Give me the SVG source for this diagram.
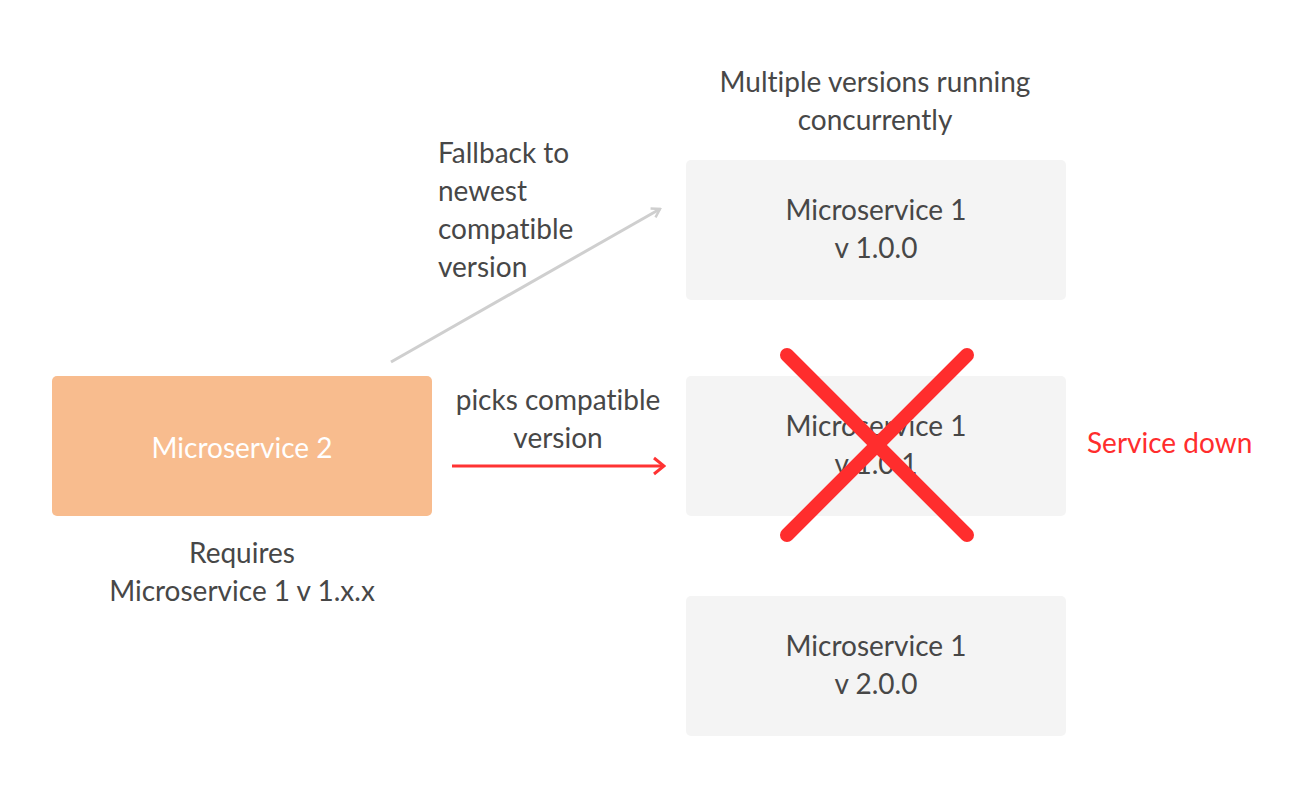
<svg xmlns="http://www.w3.org/2000/svg" width="1308" height="802" viewBox="0 0 1308 802">
<style>
text{font-family:Lato,"Noto Sans",sans-serif;font-size:28px;fill:#474747;font-variant-ligatures:none}
.c{text-anchor:middle}
.box{fill:#F4F4F4}
</style>
<defs>
<marker id="ag" viewBox="0 0 12 12" refX="10" refY="6" markerWidth="12" markerHeight="12" markerUnits="userSpaceOnUse" orient="auto">
<path d="M2,1 L10,6 L2,11" fill="none" stroke="#CFCFCF" stroke-width="2.5"/>
</marker>
<marker id="ar" viewBox="0 0 14 20" refX="12" refY="10" markerWidth="14" markerHeight="20" markerUnits="userSpaceOnUse" orient="auto">
<path d="M2,2 L12,10 L2,18" fill="none" stroke="#FF3333" stroke-width="3"/>
</marker>
</defs>
<rect width="1308" height="802" fill="#fff"/>
<g id="ms2">
<rect x="52" y="376" width="380" height="140" rx="5" fill="#F8BC8E"/>
<text class="c" x="242" y="458" style="fill:#fff">Microservice 2</text>
</g>
<g id="req">
<text class="c" x="242" y="563">Requires</text>
<text class="c" x="242" y="601">Microservice 1 v 1.x.x</text>
</g>
<g id="title">
<text class="c" x="875" y="92">Multiple versions running</text>
<text class="c" x="875" y="130">concurrently</text>
</g>
<g id="v100">
<rect class="box" x="686" y="160" width="380" height="140" rx="5"/>
<text class="c" x="876" y="220">Microservice 1</text>
<text class="c" x="876" y="258">v 1.0.0</text>
</g>
<g id="v101">
<rect class="box" x="686" y="376" width="380" height="140" rx="5"/>
<text class="c" x="876" y="436">Microservice 1</text>
<text class="c" x="876" y="474">v 1.0.1</text>
</g>
<g id="v200">
<rect class="box" x="686" y="596" width="380" height="140" rx="5"/>
<text class="c" x="876" y="656">Microservice 1</text>
<text class="c" x="876" y="694">v 2.0.0</text>
</g>
<g id="connectors">
<line x1="391" y1="362" x2="660" y2="209" stroke="#CFCFCF" stroke-width="3" marker-end="url(#ag)"/>
<line x1="452" y1="466" x2="664" y2="466" stroke="#FF3333" stroke-width="3" marker-end="url(#ar)"/>
<text x="438" y="163">Fallback to</text>
<text x="438" y="201">newest</text>
<text x="438" y="239">compatible</text>
<text x="438" y="277">version</text>
<text class="c" x="558" y="410">picks compatible</text>
<text class="c" x="558" y="448">version</text>
</g>
<g id="cross">
<line x1="787" y1="355" x2="967" y2="535" stroke="#FF2D2D" stroke-width="14" stroke-linecap="round"/>
<line x1="967" y1="355" x2="787" y2="535" stroke="#FF2D2D" stroke-width="14" stroke-linecap="round"/>
</g>
<g id="down">
<text x="1087" y="453" style="fill:#FF2D2D">Service down</text>
</g>
</svg>
